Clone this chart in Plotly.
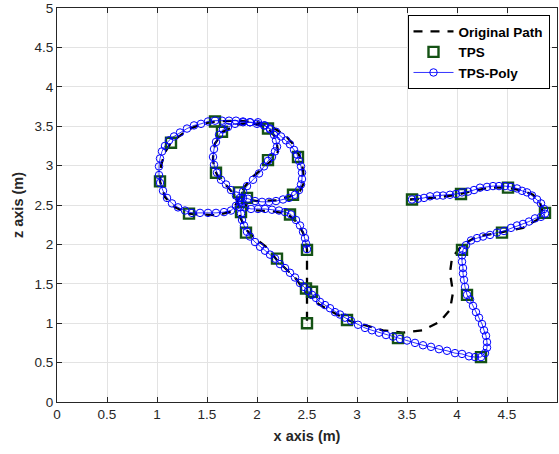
import plotly.graph_objects as go

# ---------------- data ----------------
# Original path (dashed)
orig_x = [3.53, 3.76, 4.00, 4.13, 4.33, 4.50, 4.66, 4.76, 4.83, 4.86, 4.80, 4.66, 4.43, 4.20, 4.05,
          3.95, 3.93, 3.96, 3.93, 3.83, 3.66, 3.46, 3.26, 3.06, 2.90, 2.63, 2.50, 2.40, 2.20, 2.10,
          1.96, 1.89, 1.83, 1.82,
          1.78, 1.70, 1.62, 1.57, 1.56, 1.58, 1.66, 1.80, 1.95, 2.11, 2.19, 2.21, 2.15, 2.05, 1.95,
          1.87, 1.82,
          1.75, 1.60, 1.43, 1.32, 1.18, 1.08, 1.03, 1.04, 1.08, 1.14, 1.30, 1.45, 1.58, 1.80, 2.00,
          2.15, 2.28, 2.37, 2.43, 2.46, 2.47, 2.43, 2.36, 2.20, 2.00, 1.88,
          1.90, 2.00, 2.15, 2.30, 2.40, 2.46, 2.49, 2.50, 2.50, 2.50, 2.50]
orig_y = [2.57, 2.59, 2.63, 2.67, 2.72, 2.72, 2.68, 2.63, 2.53, 2.40, 2.31, 2.21, 2.15, 2.10, 1.99,
          1.83, 1.64, 1.39, 1.17, 1.02, 0.91, 0.88, 0.91, 0.98, 1.04, 1.23, 1.36, 1.55, 1.80, 1.96,
          2.10, 2.19, 2.35, 2.48,
          2.62, 2.74, 2.84, 2.96, 3.10, 3.28, 3.43, 3.52, 3.54, 3.48, 3.35, 3.18, 3.07, 2.96, 2.85,
          2.72, 2.58,
          2.42, 2.37, 2.38, 2.39, 2.47, 2.60, 2.80, 3.00, 3.17, 3.29, 3.45, 3.53, 3.56, 3.57, 3.55,
          3.49, 3.39, 3.26, 3.11, 2.95, 2.78, 2.68, 2.62, 2.56, 2.55, 2.57,
          2.44, 2.43, 2.42, 2.39, 2.28, 2.15, 2.03, 1.93, 1.70, 1.45, 1.00]

# TPS points (squares)
tps_x = [2.50, 2.49, 2.55, 2.90, 3.41, 4.24, 4.10, 4.05, 4.45, 4.88, 4.51, 4.04, 3.55,
         1.58, 1.65, 2.11, 1.14, 2.41, 2.11, 1.59, 1.03, 1.82, 1.90, 2.36, 1.32, 1.84,
         2.33, 1.89, 2.50, 2.20]
tps_y = [1.00, 1.44, 1.40, 1.04, 0.81, 0.57, 1.36, 1.93, 2.15, 2.40, 2.72, 2.64, 2.57,
         3.56, 3.43, 3.47, 3.29, 3.11, 3.07, 2.91, 2.80, 2.66, 2.59, 2.63, 2.39, 2.41,
         2.38, 2.15, 1.93, 1.82]

# TPS-Poly (blue circles)
poly_x = [3.55, 3.61, 3.67, 3.73, 3.80, 3.86, 3.93, 3.99, 4.05, 4.11, 4.17, 4.23, 4.30, 4.36,
          4.42, 4.48, 4.54, 4.60, 4.65, 4.70, 4.75, 4.80, 4.84, 4.87, 4.88, 4.84, 4.78, 4.72,
          4.66, 4.60, 4.54, 4.47, 4.40, 4.33, 4.26, 4.20, 4.14, 4.09, 4.06,
          4.05, 4.05, 4.06, 4.06, 4.07, 4.08, 4.10, 4.13, 4.16, 4.19, 4.22, 4.25, 4.27, 4.29,
          4.30, 4.30, 4.28, 4.24,
          4.18, 4.12, 4.05, 3.98, 3.90, 3.82, 3.74, 3.66, 3.58, 3.50, 3.43, 3.36, 3.29, 3.22,
          3.15, 3.08, 3.01, 2.94, 2.88, 2.83, 2.78, 2.73, 2.68, 2.63, 2.59, 2.55, 2.51,
          2.47, 2.43, 2.38, 2.33, 2.28, 2.23, 2.18, 2.13, 2.08, 2.03, 1.98, 1.93, 1.90, 1.87,
          1.85, 1.84, 1.83, 1.83,
          1.79, 1.74, 1.69, 1.64, 1.60, 1.57, 1.56, 1.57, 1.59, 1.62, 1.66, 1.71, 1.78, 1.86,
          1.93, 2.01, 2.08, 2.13, 2.17, 2.19, 2.20, 2.18, 2.15, 2.11, 2.07, 2.02, 1.96, 1.90,
          1.86, 1.83,
          1.79, 1.74, 1.67, 1.59, 1.51, 1.43, 1.35, 1.28, 1.21, 1.15, 1.10, 1.06, 1.03, 1.02,
          1.02, 1.03, 1.05, 1.08, 1.12, 1.17, 1.23, 1.30, 1.37, 1.44, 1.51, 1.58, 1.65, 1.72,
          1.79, 1.86, 1.93, 2.00, 2.07, 2.13, 2.19, 2.24, 2.29, 2.33, 2.37, 2.40, 2.42, 2.44,
          2.45, 2.45, 2.44, 2.42, 2.38, 2.32, 2.26, 2.19, 2.12, 2.05, 1.98, 1.91, 1.86,
          1.88, 1.94, 2.01, 2.08, 2.15, 2.22, 2.28, 2.34, 2.39, 2.43, 2.46, 2.48, 2.49, 2.50]
poly_y = [2.57, 2.58, 2.59, 2.61, 2.62, 2.62, 2.63, 2.64, 2.66, 2.67, 2.69, 2.72, 2.73, 2.74,
          2.74, 2.74, 2.73, 2.71, 2.68, 2.66, 2.62, 2.57, 2.52, 2.45, 2.39, 2.35, 2.33, 2.29,
          2.26, 2.24, 2.21, 2.17, 2.15, 2.12, 2.10, 2.08, 2.05, 1.99, 1.93,
          1.86, 1.78, 1.70, 1.63, 1.55, 1.46, 1.36, 1.30, 1.22, 1.14, 1.07, 0.99, 0.91, 0.84,
          0.76, 0.69, 0.62, 0.57,
          0.57, 0.58, 0.61, 0.62, 0.65, 0.67, 0.70, 0.72, 0.75, 0.78, 0.80, 0.83, 0.85, 0.88,
          0.91, 0.94, 0.98, 1.03, 1.07, 1.11, 1.14, 1.19, 1.23, 1.27, 1.32, 1.36, 1.41,
          1.46, 1.51, 1.58, 1.64, 1.70, 1.75, 1.82, 1.87, 1.92, 1.97, 2.03, 2.10, 2.16, 2.24,
          2.31, 2.39, 2.47, 2.54,
          2.62, 2.69, 2.76, 2.82, 2.91, 3.01, 3.11, 3.21, 3.30, 3.39, 3.46, 3.49, 3.53, 3.55,
          3.55, 3.55, 3.51, 3.46, 3.39, 3.32, 3.24, 3.18, 3.11, 3.06, 2.99, 2.90, 2.82, 2.74,
          2.67, 2.59,
          2.49, 2.43, 2.41, 2.40, 2.40, 2.40, 2.40, 2.43, 2.47, 2.52, 2.59, 2.68, 2.78, 2.88,
          2.99, 3.09, 3.18, 3.25, 3.32, 3.37, 3.42, 3.47, 3.51, 3.53, 3.56, 3.57, 3.57, 3.57,
          3.57, 3.56, 3.55, 3.53, 3.51, 3.47, 3.43, 3.37, 3.32, 3.27, 3.20, 3.14, 3.06, 2.99,
          2.91, 2.83, 2.76, 2.69, 2.63, 2.59, 2.57, 2.55, 2.54, 2.54, 2.55, 2.58, 2.59,
          2.47, 2.45, 2.45, 2.45, 2.44, 2.43, 2.41, 2.38, 2.31, 2.24, 2.16, 2.08, 2.01, 1.94]

# ---------------- figure ----------------
FONT = "Liberation Sans, Arial, Helvetica, sans-serif"
TXT = "#262626"

fig = go.Figure()
fig.add_trace(go.Scatter(
    x=orig_x, y=orig_y, mode="lines", name="Original Path",
    line=dict(color="black", width=2.3, dash="9px,8px"),
))
fig.add_trace(go.Scatter(
    x=tps_x, y=tps_y, mode="markers", name="TPS",
    marker=dict(symbol="square-open", size=10, color="#145214", line=dict(width=2.4, color="#145214")),
))
fig.add_trace(go.Scatter(
    x=poly_x, y=poly_y, mode="lines+markers", name="TPS-Poly",
    line=dict(color="#0000ff", width=0.8),
    marker=dict(symbol="circle-open", size=7.5, color="#0000ff", line=dict(width=1, color="#0000ff")),
))

axis_common = dict(
    range=[0, 5], dtick=0.5, tick0=0,
    showgrid=True, gridcolor="#e3e3e3", gridwidth=1,
    showline=True, linecolor=TXT, linewidth=1, mirror="ticks",
    ticks="inside", ticklen=5, tickcolor=TXT, tickwidth=1,
    tickfont=dict(family=FONT, size=13.5, color=TXT),
    zeroline=False, fixedrange=True,
)

fig.update_layout(
    width=559, height=454,
    margin=dict(l=57, r=2, t=8, b=52),
    paper_bgcolor="white", plot_bgcolor="white",
    xaxis=dict(**axis_common,
               title=dict(text="x axis (m)", standoff=9,
                          font=dict(family=FONT, size=14.5, color=TXT, weight="bold"))),
    yaxis=dict(**axis_common,
               title=dict(text="z axis (m)", standoff=7,
                          font=dict(family=FONT, size=14.5, color=TXT, weight="bold"))),
    legend=dict(
        x=0.985, y=0.982, xanchor="right", yanchor="top",
        bgcolor="white", bordercolor="black", borderwidth=1,
        font=dict(family=FONT, size=13.5, color="black", weight="bold"),
        itemwidth=40, tracegroupgap=0,
    ),
    showlegend=True,
)

fig.write_html("out.html")
